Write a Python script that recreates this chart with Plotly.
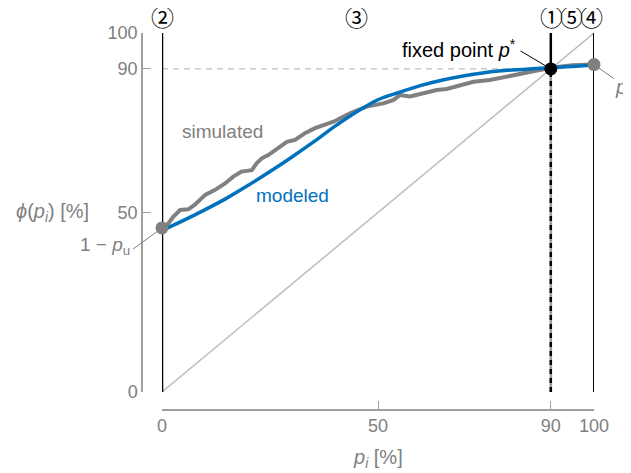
import plotly.graph_objects as go

# ---- data ----
model_x = [0, 5, 10, 15, 20, 25, 30, 35, 40, 45, 50, 55, 60, 65, 70, 75, 80, 85, 90, 95, 100]
model_y = [45.0, 47.8, 50.8, 54.0, 57.6, 61.4, 65.4, 69.6, 74.0, 78.0, 81.4, 83.5, 85.4, 86.9, 88.1, 89.0, 89.6, 90.0, 90.3, 90.7, 91.1]

sim_x = [0, 1.5, 2.6, 4.2, 6.1, 7.6, 10, 12.3, 14.6, 16.5, 18.4, 20.8, 21.9, 23.1, 24.6, 26.9,
         28.9, 30.8, 33.1, 35.4, 39.7, 43.5, 47.4, 51.2, 53.5, 55.1, 57.4, 60.5, 63.6, 65.9,
         69, 72.1, 75.9, 79.8, 83.6, 87.5, 90, 95, 100]
sim_y = [45.7, 47.0, 48.8, 50.7, 50.9, 52.2, 54.9, 56.3, 58.1, 60.0, 61.4, 61.8, 63.7, 65.1, 66.0, 67.9,
         69.7, 70.2, 72.1, 73.5, 75.3, 77.6, 79.5, 80.4, 81.3, 82.7, 82.3, 83.2, 84.1, 84.4,
         85.5, 86.4, 86.9, 87.8, 88.6, 89.5, 90.3, 91.0, 91.2]

tick_vals = [0, 50, 90, 100]
tick_text = ["0", "50", "90", "100"]

fixed_point = 90
p_a = 91.2
one_minus_pu = 45.7
x_min, x_max = 0, 100

regions = [  # (label, x position)
    ("②", 0), ("③", 45), ("①", 90.2), ("⑤", 94.8), ("④", 99.5)
]

GRAY = "#808080"
LGRAY = "#bdbdbd"
BLUE = "#0072BD"
FONT = "Liberation Sans"

# page body has an 8px margin; compensate so the plot lands where the reference has it
OFF = 8
W, H = 631, 473
ML, MR, MT, MB = 142 - OFF, 37 + OFF, 33 - OFF, 63 + OFF
PW, PH = W - ML - MR, H - MT - MB
DX0 = 20 / PW
DY0 = 18 / PH


def px(x):  # data x -> paper
    return DX0 + (x / 100) * (1 - DX0)


def py(y):  # data y -> paper
    return DY0 + (y / 100) * (1 - DY0)


fig = go.Figure()

# diagonal
fig.add_trace(go.Scatter(x=[x_min, x_max], y=[x_min, x_max], mode="lines",
                         line=dict(color=LGRAY, width=1.5), cliponaxis=False, hoverinfo="skip"))
# dashed horizontal at fixed point
fig.add_trace(go.Scatter(x=[x_min, fixed_point], y=[fixed_point, fixed_point], mode="lines",
                         line=dict(color=LGRAY, width=1.2, dash="6px,5px"), cliponaxis=False))
# vertical lines
fig.add_trace(go.Scatter(x=[x_min, x_min], y=[0, 100], mode="lines",
                         line=dict(color="black", width=2.5), cliponaxis=False))
fig.add_trace(go.Scatter(x=[x_max, x_max], y=[0, 100], mode="lines",
                         line=dict(color="black", width=2), cliponaxis=False))
fig.add_trace(go.Scatter(x=[fixed_point, fixed_point], y=[0, fixed_point], mode="lines",
                         line=dict(color="#9a9a9a", width=2.5), cliponaxis=False))
fig.add_trace(go.Scatter(x=[fixed_point, fixed_point], y=[0, fixed_point], mode="lines",
                         line=dict(color="black", width=2.5, dash="5px,4px"), cliponaxis=False))
fig.add_trace(go.Scatter(x=[fixed_point, fixed_point], y=[fixed_point, 100], mode="lines",
                         line=dict(color="black", width=2.5), cliponaxis=False))

# simulated
fig.add_trace(go.Scatter(x=sim_x, y=sim_y, mode="lines",
                         line=dict(color=GRAY, width=4), cliponaxis=False))
# modeled
fig.add_trace(go.Scatter(x=model_x, y=model_y, mode="lines",
                         line=dict(color=BLUE, width=3.5, shape="spline"), cliponaxis=False))

# markers
fig.add_trace(go.Scatter(x=[x_min, x_max], y=[one_minus_pu, p_a], mode="markers",
                         marker=dict(color=GRAY, size=13), cliponaxis=False))
fig.add_trace(go.Scatter(x=[fixed_point], y=[fixed_point], mode="markers",
                         marker=dict(color="black", size=13), cliponaxis=False))

# leader lines (paper coordinates so they are not clipped)
fig.add_shape(type="line", xref="paper", yref="paper",
              x0=px(83.0), y0=py(95.0), x1=px(fixed_point), y1=py(fixed_point),
              line=dict(color="black", width=1))
fig.add_shape(type="line", xref="paper", yref="paper",
              x0=px(-6.7), y0=py(39.8), x1=px(x_min), y1=py(one_minus_pu),
              line=dict(color=GRAY, width=1))
fig.add_shape(type="line", xref="paper", yref="paper",
              x0=px(x_max), y0=py(p_a), x1=px(104.6), y1=py(87.3),
              line=dict(color=GRAY, width=1))


def A(x, y, text, color, size=19, family=FONT, xanchor="center"):
    return dict(x=px(x), y=py(y), xref="paper", yref="paper", text=text, showarrow=False,
                xanchor=xanchor, yanchor="middle",
                font=dict(family=family, size=size, color=color))


ann = []
for lab, xv in regions:
    ann.append(A(xv, 104.7, lab, "black", size=23, family="Noto Sans CJK JP"))
ann += [
    A(13.9, 72.7, "simulated", GRAY),
    A(30.1, 54.6, "modeled", BLUE),
    A(82.5, 95.8, "fixed point <i>p</i><sup>*</sup>", "black", size=20, xanchor="right"),
    A(-7.0, 40.7, "1 − <i>p</i><sub>u</sub>", GRAY, xanchor="right"),
    A(104.3, 84.5, "<i>p</i><sub>a</sub>", GRAY, size=20, xanchor="left"),
    A(-25.3, 50.1, "<i>ϕ</i>(<i>p<sub>i</sub></i>) [%]", GRAY, size=20),
    A(50, -18.6, "<i>p<sub>i</sub></i> [%]", GRAY, size=20),
]

axis_common = dict(tickvals=tick_vals, ticktext=tick_text, ticks="inside", ticklen=8,
                   tickwidth=1.2, tickcolor="#a0a0a0", showline=True, linecolor="#a0a0a0",
                   linewidth=1.5, showgrid=False, zeroline=False, automargin=False,
                   tickfont=dict(family=FONT, size=18, color=GRAY))

fig.update_layout(
    width=W, height=H,
    margin=dict(l=ML, r=MR, t=MT, b=MB, autoexpand=False),
    paper_bgcolor="white", plot_bgcolor="white",
    showlegend=False,
    xaxis=dict(range=[0, 100], domain=[DX0, 1], anchor="free", position=0, **axis_common),
    yaxis=dict(range=[0, 100], domain=[DY0, 1], anchor="free", position=0, **axis_common),
    annotations=ann,
)

fig.write_html("out.html")
